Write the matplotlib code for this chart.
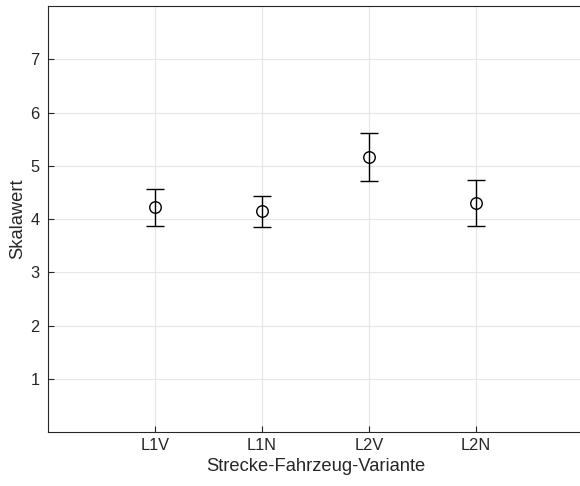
import matplotlib.pyplot as plt

plt.rcParams['font.family'] = ['Liberation Sans', 'DejaVu Sans']

variants = ['L1V', 'L1N', 'L2V', 'L2N']
means = [4.22, 4.15, 5.16, 4.30]
errors = [0.35, 0.29, 0.45, 0.43]

fig = plt.figure(figsize=(5.8, 4.86), dpi=100)
# right edge of the box sits just outside the canvas
ax = fig.add_axes([0.0828, 0.111, 535 / 580, 0.8765])

x = list(range(1, len(variants) + 1))
ax.errorbar(x, means, yerr=errors, fmt='o', color='black', mfc='none',
            markersize=8.3, capsize=6.8, elinewidth=1.0, capthick=1.0, mew=1.0)

ax.set_xlim(0, 5)
ax.set_ylim(0, 8)
ax.set_xticks(x)
ax.set_xticklabels(variants)
ax.set_yticks(range(1, 8))
ax.grid(True, color='#e6e6e6', linewidth=0.8)
ax.set_axisbelow(True)

axis_col = '#262626'
for s in ax.spines.values():
    s.set_color(axis_col)
    s.set_linewidth(0.8)
ax.tick_params(direction='in', length=4, width=0.8, colors=axis_col,
               labelsize=11.8)
ax.tick_params(axis='x', pad=4)
ax.tick_params(axis='y', pad=6)

ax.set_xlabel('Strecke-Fahrzeug-Variante', fontsize=13.2, color=axis_col, labelpad=4)
ax.set_ylabel('Skalawert', fontsize=13.2, color=axis_col, labelpad=3)

fig.savefig('out.png', dpi=100)
